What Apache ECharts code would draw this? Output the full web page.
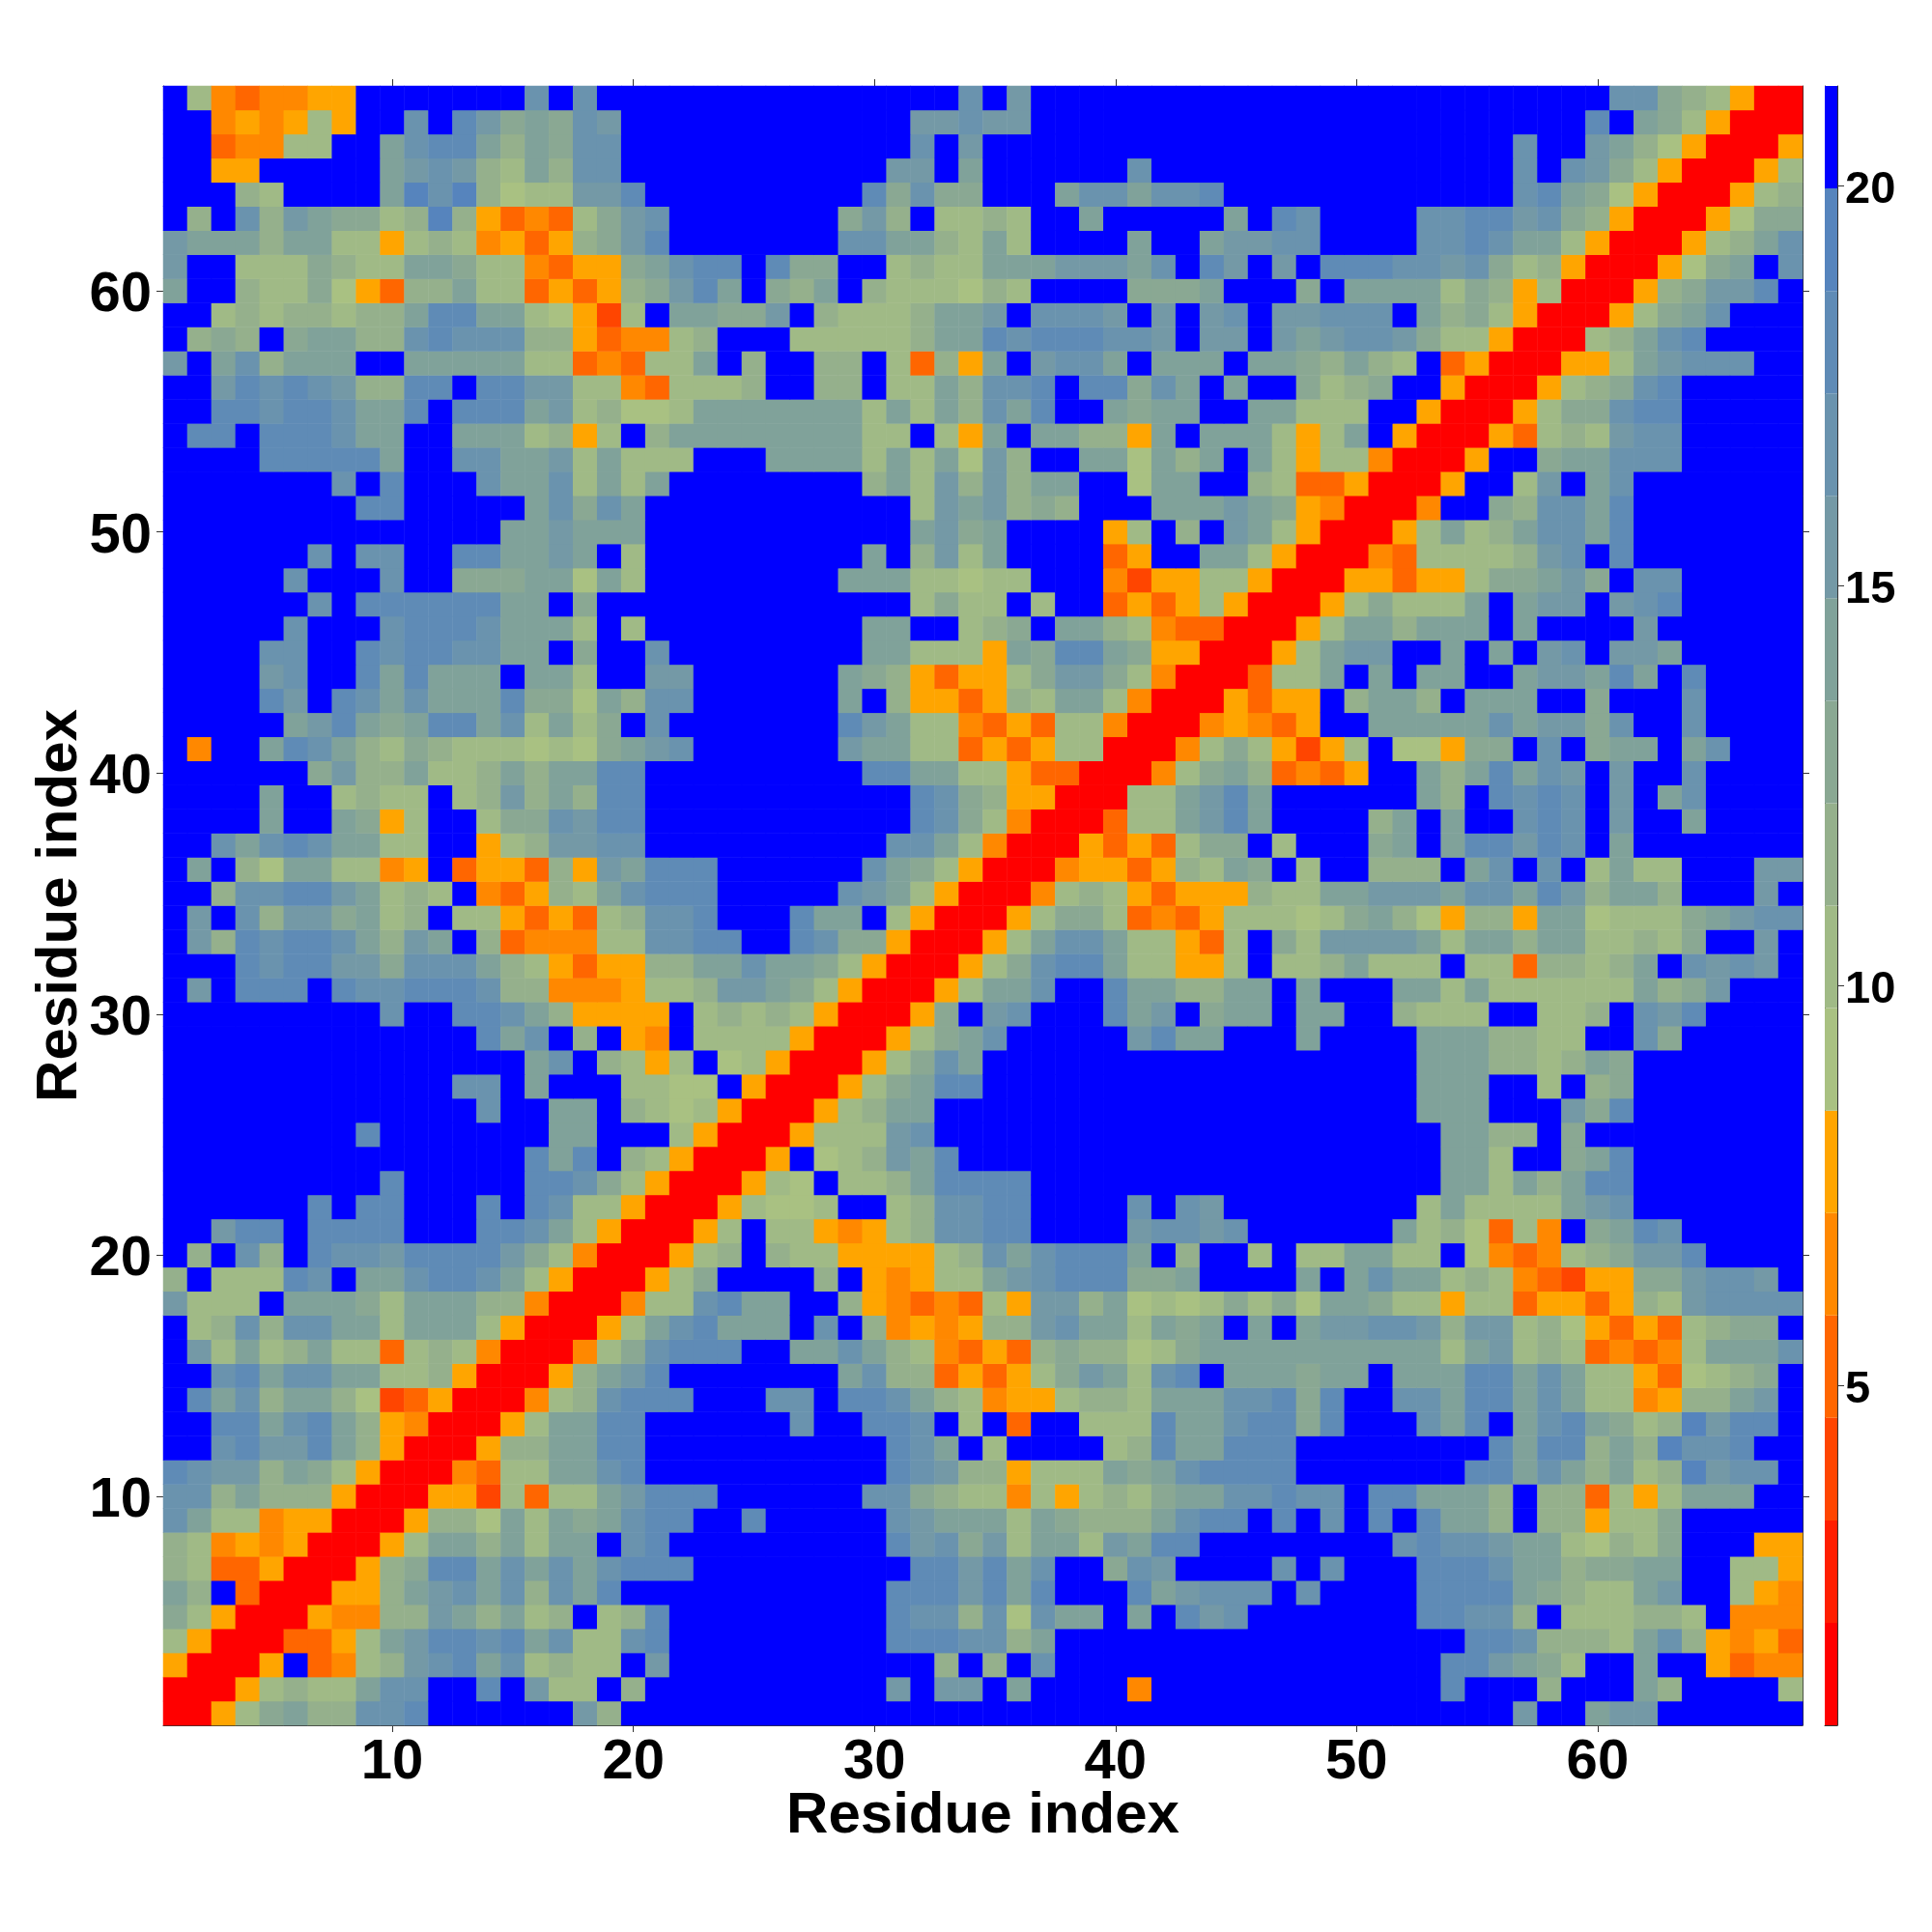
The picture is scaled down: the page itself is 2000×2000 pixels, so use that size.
<!DOCTYPE html>
<html>
<head>
<meta charset="utf-8">
<style>html,body{margin:0;padding:0;background:#fff}#c{width:2000px;height:2000px}</style>
<script src="https://cdn.jsdelivr.net/npm/echarts@6/dist/echarts.min.js"></script>
</head>
<body>
<div id="c"></div>
<script>
// Distance-band code of each residue pair: one hex digit per cell,
// row n holds residues 1..n (the map is symmetric). 0 = first colour band, f = last.
const bandRows = [
"0","00","500","7500","97500","a8f300","8733500","87454500","ca7745500","cc8a888500",
"dcbb8a9750 0",
"ffcdbbda85 00",
"ffddacda85 400",
"fdac8aa862 3500",
"ffcdaccaa7 78500",
"fb7a78a773 787400",
"f78c8ccaa7 aaa7500",
"b777faaa97 aaa88400",
"8f777dcfaa cddca7500",
"f8fc8fdccb ddddb97400",
"ffbddfdddd fffddca750 0",
"ffffffdfdd fffdfdc775 00",
"fffffffffd fffffddc97 500",
"ffffffffff fffffdadf8 7500",
"ffffffffdf ffffffaaff f7500",
"ffffffffff fffcffaaf8 767500",
"ffffffffff ffccfafff7 766f500",
"ffffffffff fffffacf87 57f67500",
"ffffffffff fffdacf8f5 4f7777500",
"fffffffffc ffddca8555 5f78787500",
"fbfdddfdcc dddc884445 778bba9750 0",
"fffdcddbb9 ccca875355 88aacaa975 00",
"fb8dcddca8 baf8344477 ccddffdc99 500",
"fbfc8bb9a7 8f77535378 ccdfffdaaf 7500",
"ff8ccddba7 87f43587ac dddfffffcb a7500",
"faf86aa774 5f355385ba dddffffffc a97500",
"ffcacdcaa7 7ff578bbcc ffffffffff cca7400",
"ffffaffa95 7ff799cbdd ffffffffff fdc97400",
"ffffaff787 7f78b8a8dd ffffffffff fdc985500",
"ffffff9b88 a778a8aadd fffffffffd daa7753300",
"f4ffadca87 987776769a bcffffffba a773535770 0",
"fffffabda9 addac7a79f cfffffffdb a774353774 00",
"ffffdbfdca caaad996a8 ccffffffaf 8553587aa7 400",
"ffffbcffda daaafaa7ff bbffffffa9 8535579bb9 7400",
"ffffccffdc ddccaaf9ff cffffffffa a7775a9dda 95500",
"fffffcfffc dddcaaa7f7 fffffffffa aff789faa8 743300",
"ffffffcfdd ddddaaf9ff ffffffffff f7977f7ff3 5357500",
"fffffcfffc ff999aa6a7 ffffffffaa a77677fff4 25577500",
"ffffffcfcc ffddaabaf7 fffffffffa f8b7affff3 5ffaa7500",
"ffffffffff ffffaabaaa ffffffffff fab9affff5 7f8fba7500",
"ffffffffdd fffffac9ca ffffffffff f7bab898ff faaaba9540 0",
"fffffffcfd fffcaac7a7 affffffff8 a7b8b8aaff 6aaff87335 00",
"ffffddddda ffccaab7a7 77fffaaaa7 a7a6b8ffaa 6a8afa7577 400",
"fddfdddcaa ffaaa7857f 8aaaaaaaa7 7f75afaa88 5afaaa757a f500",
"ffddcddcaa dfdddab786 67aaaaaaa7 a7a8cadffa 9aaffaa777 ff500",
"ffbdcdcb88 ddfddbb774 37778ff88f 77a8ccdfdd 9cafaff978 9ff500",
"bfac8aaaff aaaaa77343 77af8ff88f 7385afbcca faaafaa98a 87f3500",
"f898f9aa88 cdccc88534 478fff7777 78aadcdddc cbfbbfbabc cb977500",
"ff78788788 addaa76527 faa99bf877 78aabfcccb fbfbcfbbcc cfa897500",
"aff8779653 88a7735358 9bdaf98af8 777687ffff 999afff9fa aaa7985700",
"bff7779877 aa97743559 acddfd99ff 7877aaabbb acfdbfbfdd dccbc97850 0",
"baaa8aa775 787453589b dfffffffcc aa87a7ffff affabbccff ffccdcaa75 00",
"f8fc8ba997 8e8534379b cfffffff9b 8f7787ffaf ffffafdcff ffccddbc98 500",
"fff87ffffa ece8677bbd fffffffffd 9c99fffacc accdffffff ffffffcda9 6500",
"ff55fffffa bcb87a8ccf ffffffffff bbfaffffff cfffffffff ffffffcfcb 97500",
"ff34477ffa cdda8a9ccf ffffffffff fcfbffffff ffffffffff ffffffcffb a86500",
"ff454575ff cfdb9a9cbf ffffffffff fbbcbbffff ffffffffff fffffffffd fa97500",
"f7434455ff fffffcfcff ffffffffff fffcfbffff ffffffffff ffffffffff cc987500"
];
const bandColors = ["#ff0000","#ff1e00","#ff4500","#ff6600","#ff8800","#ffa500",
  "#a9c182","#a0ba86","#95b08c","#8aa893","#80a29a","#7499a6","#6a93ae","#5f8bb6","#5684bd","#0000ff"];
const scaleMin = 0.75, scaleMax = 21.25;
const colorbarTicks = [5, 10, 15, 20];
const axisTitle = "Residue index";
const residues = bandRows.map((_, i) => String(i + 1));

const bandStep = (scaleMax - scaleMin) / bandColors.length;
const bandEdges = bandColors.map((_, k) => scaleMin + k * bandStep).concat(scaleMax);
const rows = bandRows.map(r => r.replace(/ /g, ""));
const cells = [];
rows.forEach((r, i) => {
  for (let j = 0; j < r.length; j++) {
    const v = scaleMin + (parseInt(r[j], 16) + 0.5) * bandStep;
    cells.push([j, i, v]);
    if (i !== j) cells.push([i, j, v]);
  }
});

const FONT = "Liberation Sans";
const tens = (idx) => (idx + 1) % 10 === 0;
const EDGE = { show: true, lineStyle: { color: "#333", width: 1 } };
const TICK = { show: true, alignWithLabel: true, interval: tens, length: 7, lineStyle: { color: "#333", width: 1 } };
const LABEL = { show: true, interval: tens, color: "#000", fontFamily: FONT, fontWeight: "bold", fontSize: 58 };
const TITLE = { color: "#000", fontFamily: FONT, fontWeight: "bold", fontSize: 60 };
const nudged = (fontSize) => ({
  formatter: "{v|{value}}",
  rich: { v: { padding: [10, 0, 0, 0], color: "#000", fontFamily: FONT, fontWeight: "bold", fontSize } }
});

const chart = echarts.init(document.getElementById("c"), null, { renderer: "canvas", width: 2000, height: 2000 });
chart.setOption({
  animation: false,
  backgroundColor: "#fff",
  grid: [
    { left: 169, top: 89, width: 1697, height: 1697 },
    { left: 1889, top: 89, width: 13, height: 1697 }
  ],
  xAxis: [
    { type: "category", data: residues, gridIndex: 0, position: "bottom", axisLine: EDGE, axisTick: TICK,
      axisLabel: Object.assign({ margin: 10 }, LABEL), splitLine: { show: false },
      name: axisTitle, nameLocation: "center", nameGap: 64, nameMoveOverlap: false, nameTextStyle: TITLE },
    { type: "category", data: residues, gridIndex: 0, position: "top", axisLine: EDGE, axisTick: TICK,
      axisLabel: { show: false }, splitLine: { show: false } },
    { type: "category", data: ["scale"], gridIndex: 1, position: "bottom", axisLine: EDGE,
      axisTick: { show: false }, axisLabel: { show: false }, splitLine: { show: false } }
  ],
  yAxis: [
    { type: "category", data: residues, gridIndex: 0, position: "left", axisLine: EDGE, axisTick: TICK,
      axisLabel: Object.assign({ margin: 12 }, LABEL, nudged(58)), splitLine: { show: false },
      name: axisTitle, nameLocation: "center", nameGap: 77, nameMoveOverlap: false, nameRotate: 90, nameTextStyle: TITLE },
    { type: "category", data: residues, gridIndex: 0, position: "right", axisLine: EDGE, axisTick: TICK,
      axisLabel: { show: false }, splitLine: { show: false } },
    { type: "value", gridIndex: 1, position: "right", min: scaleMin, max: scaleMax, axisLine: EDGE,
      axisTick: { show: true, length: 7, customValues: colorbarTicks, lineStyle: { color: "#333", width: 1 } },
      axisLabel: Object.assign({ show: true, margin: 8, customValues: colorbarTicks }, nudged(47)),
      splitLine: { show: false } },
    { type: "value", gridIndex: 1, position: "left", min: scaleMin, max: scaleMax, axisLine: EDGE,
      axisTick: { show: false }, axisLabel: { show: false }, splitLine: { show: false } }
  ],
  visualMap: {
    show: false, type: "piecewise", seriesIndex: 0, dimension: 2,
    pieces: bandColors.map((color, k) => ({ min: bandEdges[k], max: bandEdges[k + 1], color }))
  },
  series: [
    { type: "heatmap", xAxisIndex: 0, yAxisIndex: 0, data: cells, progressive: 0, silent: true,
      emphasis: { disabled: true }, itemStyle: { borderWidth: 0 } }
  ].concat(bandColors.map((color, k) => ({
    type: "bar", xAxisIndex: 2, yAxisIndex: 2, stack: "scale", barWidth: "100%", silent: true,
    itemStyle: { color },
    data: [k === 0 ? bandEdges[1] : bandEdges[k + 1] - bandEdges[k]]
  })))
});
</script>
</body>
</html>
